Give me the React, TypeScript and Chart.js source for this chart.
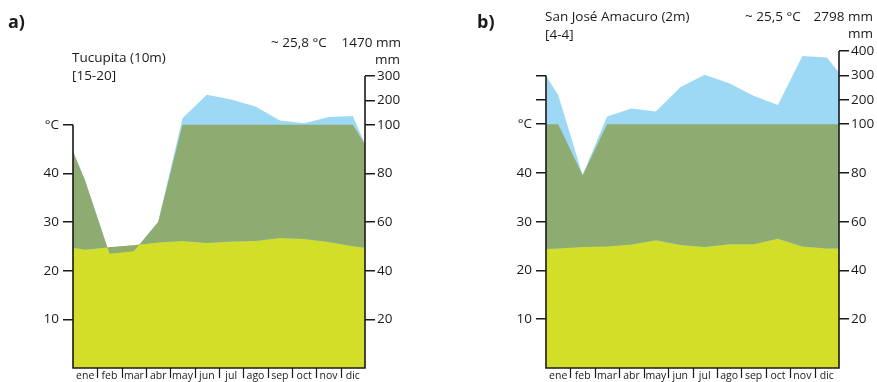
import React, { useEffect, useRef } from "react";
import { Chart, registerables } from "chart.js";

Chart.register(...registerables);

// ---------- data ----------
const MONTHS = ["ene", "feb", "mar", "abr", "may", "jun", "jul", "ago", "sep", "oct", "nov", "dic"];

// a) Tucupita
const tempA = [24.3, 24.8, 25.2, 25.8, 26.1, 25.7, 26.0, 26.1, 26.7, 26.5, 25.9, 25.0];
const tempAEdges = [24.7, 24.7];
const precA = [77, 47, 48, 60, 126, 223, 203, 175, 117, 106, 132, 136];
const precAEdges = [89, 92];

// b) San José Amacuro
const tempB = [24.5, 24.8, 24.9, 25.3, 26.2, 25.2, 24.8, 25.4, 25.4, 26.5, 24.9, 24.5];
const tempBEdges = [24.4, 24.5];
const precB = [220, 79, 131, 164, 152, 251, 303, 268, 216, 179, 380, 373];
const precBEdges = [298, 312];

// axis ticks
const tempTicks = [10, 20, 30, 40];
const mmTicksA = [20, 40, 60, 80, 100, 200, 300];
const mmTicksB = [20, 40, 60, 80, 100, 200, 300, 400];
const leftExtraMmB = [200, 300];

const YELLOW = "#d2de27";
const GREEN = "#8eab71";
const BLUE = "#9dd9f5";
const INK = "#1a1a1a";
const FONT = '"Open Sans", sans-serif';

// Walter-Lieth scale: 10 °C = 20 mm below 100 mm, 1:10 above
const toUnits = (mm: number) => (mm <= 100 ? mm / 2 : 50 + (mm - 100) / 20);

function series(vals: number[], edges: number[], f: (v: number) => number) {
  return [
    { x: 0, y: f(edges[0]) },
    ...vals.map((v, i) => ({ x: i + 0.5, y: f(v) })),
    { x: 12, y: f(edges[1]) },
  ];
}

type Spec = {
  temp: number[];
  tempEdges: number[];
  prec: number[];
  precEdges: number[];
  mmTicks: number[];
  leftExtraMm: number[];
  maxMm: number;
  leftAxisTopMm: number;
  leftW: number;
  rightW: number;
  top: number;
};

function ClimateCanvas({ spec, left, width }: { spec: Spec; left: number; width: number }) {
  const ref = useRef<HTMLCanvasElement | null>(null);
  useEffect(() => {
    if (!ref.current) return;
    const maxU = toUnits(spec.maxMm);
    const leftVals = [...tempTicks, 50, ...spec.leftExtraMm.map(toUnits)];
    const leftLabels = [...tempTicks.map(String), "°C", ...spec.leftExtraMm.map(() => "")];
    const rightVals = spec.mmTicks.map(toUnits);
    const rightLabels = spec.mmTicks.map(String);
    const leftTop = toUnits(spec.leftAxisTopMm);

    const axisPlugin = {
      id: "axisLines",
      afterDraw(chart: any) {
        const { ctx, chartArea } = chart;
        const { left: l, right: r, top: t, bottom: b } = chartArea;
        const ys = chart.scales.y;
        const xs = chart.scales.x;
        ctx.save();
        ctx.strokeStyle = INK;
        ctx.lineWidth = 1.6;
        ctx.beginPath();
        ctx.moveTo(l, ys.getPixelForValue(leftTop));
        ctx.lineTo(l, b);
        ctx.lineTo(r, b);
        ctx.lineTo(r, t);
        ctx.stroke();
        ctx.lineWidth = 1.2;
        ctx.beginPath();
        for (let i = 1; i < 12; i++) {
          const px = Math.round(xs.getPixelForValue(i)) + 0.5;
          ctx.moveTo(px, b);
          ctx.lineTo(px, b + 10);
        }
        ctx.stroke();
        ctx.restore();
      },
    };

    const tickFont = { family: FONT, size: 13.5 };
    const chart = new Chart(ref.current, {
      type: "line",
      data: {
        datasets: [
          {
            data: series(spec.prec, spec.precEdges, toUnits),
            fill: "origin",
            backgroundColor: BLUE,
            borderColor: "transparent",
            borderWidth: 0,
            pointRadius: 0,
            order: 3,
          },
          {
            data: series(spec.temp, spec.tempEdges, (v) => v),
            fill: "origin",
            backgroundColor: YELLOW,
            borderColor: "transparent",
            borderWidth: 0,
            pointRadius: 0,
            order: 2,
          },
          {
            data: series(spec.prec, spec.precEdges, (v) => Math.min(toUnits(v), 50)),
            fill: 1,
            backgroundColor: GREEN,
            borderColor: "transparent",
            borderWidth: 0,
            pointRadius: 0,
            order: 1,
          },
        ],
      } as any,
      options: {
        responsive: false,
        animation: false,
        layout: { padding: { top: spec.top, left: 0, right: 0, bottom: 0 } },
        plugins: { legend: { display: false }, tooltip: { enabled: false } },
        elements: { line: { tension: 0 } },
        scales: {
          x: { type: "linear", min: 0, max: 12, display: false },
          xm: {
            type: "category",
            labels: MONTHS,
            position: "bottom",
            offset: true,
            grid: { display: false, drawTicks: false },
            border: { display: false },
            ticks: { font: { family: FONT, size: 10.5 }, color: INK, padding: 2, maxRotation: 0, autoSkip: false },
            afterFit: (s: any) => {
              s.height = 14;
              s.paddingLeft = 0;
              s.paddingRight = 0;
            },
          },
          y: {
            position: "left",
            min: 0,
            max: maxU,
            grid: { drawOnChartArea: false, tickLength: 10, color: INK, lineWidth: 1.5 },
            border: { display: false },
            ticks: {
              font: tickFont,
              color: INK,
              padding: 4,
              callback: (v: any) => {
                const i = leftVals.findIndex((x) => Math.abs(x - v) < 1e-6);
                return i >= 0 ? leftLabels[i] : "";
              },
            },
            afterBuildTicks: (s: any) => {
              s.ticks = leftVals.map((v) => ({ value: v }));
            },
            afterFit: (s: any) => {
              s.width = spec.leftW;
              s.paddingTop = 0;
              s.paddingBottom = 0;
            },
          },
          y2: {
            position: "right",
            min: 0,
            max: maxU,
            grid: { drawOnChartArea: false, tickLength: 10, color: INK, lineWidth: 1.5 },
            border: { display: false },
            ticks: {
              font: tickFont,
              color: INK,
              padding: 2,
              callback: (v: any) => {
                const i = rightVals.findIndex((x) => Math.abs(x - v) < 1e-6);
                return i >= 0 ? rightLabels[i] : "";
              },
            },
            afterBuildTicks: (s: any) => {
              s.ticks = rightVals.map((v) => ({ value: v }));
            },
            afterFit: (s: any) => {
              s.width = spec.rightW;
              s.paddingTop = 0;
              s.paddingBottom = 0;
            },
          },
        },
      } as any,
      plugins: [axisPlugin],
    });
    return () => chart.destroy();
  }, [spec]);
  return (
    <canvas
      ref={ref}
      width={width}
      height={382}
      style={{ position: "absolute", left, top: 0, width, height: 382 }}
    />
  );
}

const specA: Spec = {
  temp: tempA,
  tempEdges: tempAEdges,
  prec: precA,
  precEdges: precAEdges,
  mmTicks: mmTicksA,
  leftExtraMm: [],
  maxMm: 300,
  leftAxisTopMm: 100,
  leftW: 73,
  rightW: 73,
  top: 76,
};

const specB: Spec = {
  temp: tempB,
  tempEdges: tempBEdges,
  prec: precB,
  precEdges: precBEdges,
  mmTicks: mmTicksB,
  leftExtraMm: leftExtraMmB,
  maxMm: 400,
  leftAxisTopMm: 300,
  leftW: 108,
  rightW: 38,
  top: 51,
};

const txt = (style: React.CSSProperties): React.CSSProperties => ({
  position: "absolute",
  whiteSpace: "pre",
  fontFamily: FONT,
  fontSize: 13.5,
  lineHeight: "14px",
  color: INK,
  ...style,
});

export default function App() {
  return (
    <div style={{ position: "absolute", left: 0, top: 0, width: 877, height: 382, background: "#fff" }}>
      <ClimateCanvas spec={specA} left={0} width={438} />
      <ClimateCanvas spec={specB} left={438} width={439} />

      <div style={txt({ left: 8, top: 12, fontSize: 18, lineHeight: "18px", fontWeight: 700 })}>a)</div>
      <div style={txt({ left: 72, top: 50 })}>Tucupita (10m)</div>
      <div style={txt({ left: 72, top: 68 })}>[15-20]</div>
      <div style={txt({ left: 271, top: 35 })}>~ 25,8 °C</div>
      <div style={txt({ right: 476, top: 35 })}>1470 mm</div>
      <div style={txt({ right: 477, top: 52 })}>mm</div>

      <div style={txt({ left: 477, top: 12, fontSize: 18, lineHeight: "18px", fontWeight: 700 })}>b)</div>
      <div style={txt({ left: 545, top: 9 })}>San José Amacuro (2m)</div>
      <div style={txt({ left: 545, top: 27 })}>[4-4]</div>
      <div style={txt({ left: 745, top: 9 })}>~ 25,5 °C</div>
      <div style={txt({ right: 4, top: 9 })}>2798 mm</div>
      <div style={txt({ right: 4, top: 26 })}>mm</div>
    </div>
  );
}
